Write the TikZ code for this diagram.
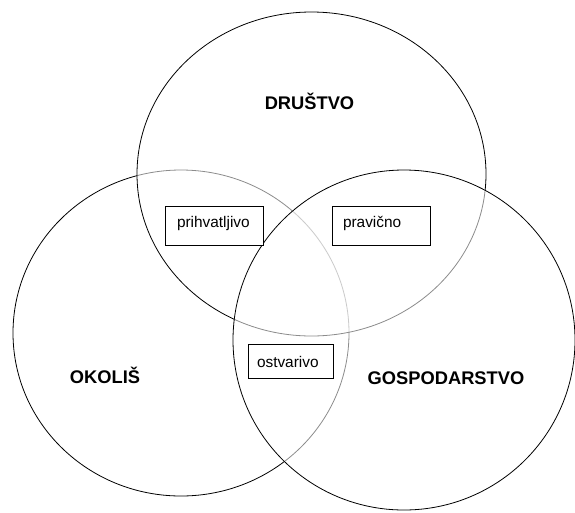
\documentclass[tikz,border=0pt]{standalone}
\usepackage{fontspec}
\setmainfont{Liberation Sans}
\begin{document}
\begin{tikzpicture}[x=1pt,y=-1pt,
  ring/.style={draw=black, line width=0.8pt, fill=white, fill opacity=0.55},
  term/.style={font=\bfseries\fontsize{18.3}{22}\selectfont, inner sep=0pt, anchor=base},
  tag/.style={draw=black, line width=0.7pt, fill=white, font=\fontsize{15.4}{18}\selectfont, align=left, inner ysep=0pt}]
\useasboundingbox (0,0) rectangle (575,512);
\draw[ring] (181,333) ellipse [x radius=168pt, y radius=163pt];
\draw[ring] (311.5,174) ellipse [x radius=174.5pt, y radius=162pt];
\draw[ring] (404,340) ellipse [x radius=171pt, y radius=170pt];
\node[term] (drustvo) at (309.5,109) {DRUŠTVO};
\node[term] (okolis) at (105,383) {OKOLIŠ};
\node[term] (gosp) at (446,384) {GOSPODARSTVO};
\node[tag, text width=74pt, inner xsep=12pt, minimum height=39pt, text height=11pt, text depth=8pt] (prih) at (214,225.5) {prihvatljivo};
\node[tag, text width=76pt, inner xsep=11pt, minimum height=39pt, text height=11pt, text depth=8pt] (prav) at (381,225.5) {pravično};
\node[tag, text width=67pt, inner xsep=9pt, minimum height=34pt, text height=12pt, text depth=0pt] (ostv) at (290.5,361) {ostvarivo};
\end{tikzpicture}
\end{document}
